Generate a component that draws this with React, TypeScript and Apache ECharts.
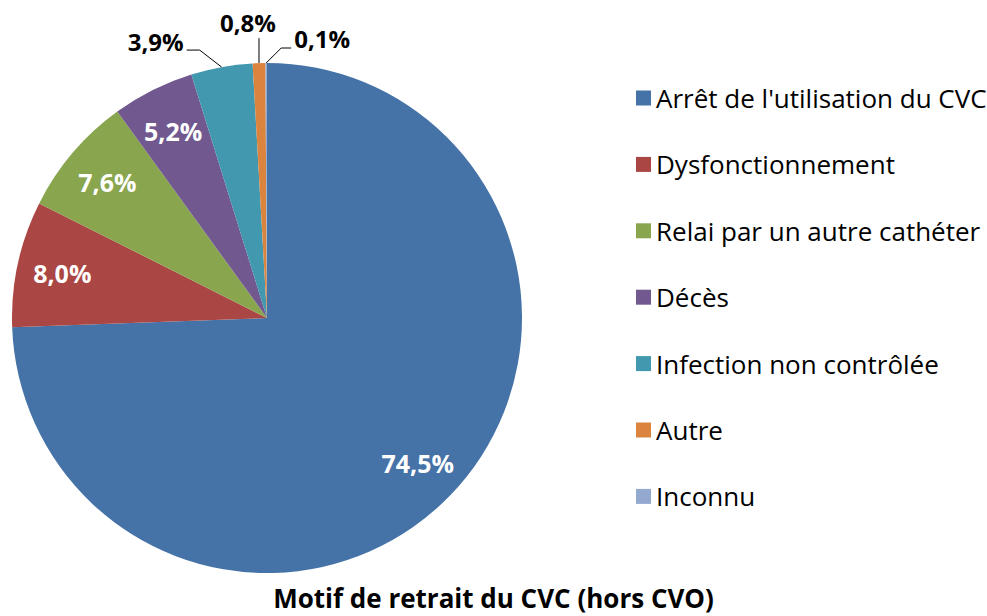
import React, { useEffect, useRef } from "react";
import * as echarts from "echarts";

const categories = [
  "Arrêt de l'utilisation du CVC",
  "Dysfonctionnement",
  "Relai par un autre cathéter",
  "Décès",
  "Infection non contrôlée",
  "Autre",
  "Inconnu",
];
const values = [74.5, 8.0, 7.6, 5.2, 3.9, 0.8, 0.1];
const colors = ["#4572A7", "#AA4643", "#89A54E", "#71588F", "#4198AF", "#DB843D", "#93A9CF"];
const titleText = "Motif de retrait du CVC (hors CVO)";
const insideThreshold = 5;

const FONT = "'Open Sans', 'Noto Sans', sans-serif";
const fmt = (v: number) => v.toFixed(1).replace(".", ",") + "%";

export default function App() {
  const ref = useRef<HTMLDivElement>(null);
  useEffect(() => {
    if (!ref.current) return;
    const chart = echarts.init(ref.current, null, { renderer: "svg" });
    const center = [267, 318];
    const R = 255;
    chart.setOption({
      animation: false,
      backgroundColor: "#fff",
      title: {
        text: titleText,
        left: "center",
        top: 584,
        padding: 0,
        textStyle: { fontFamily: FONT, fontSize: 26, fontWeight: "bold", color: "#000", lineHeight: 28 },
      },
      legend: {
        orient: "vertical",
        left: 636,
        top: 85,
        padding: 0,
        itemWidth: 15,
        itemHeight: 15,
        itemGap: 40.4,
        icon: "rect",
        selectedMode: false,
        data: categories,
        textStyle: { fontFamily: FONT, fontSize: 26, color: "#000", lineHeight: 26 },
      },
      series: [
        {
          type: "pie",
          center,
          radius: [0, R],
          startAngle: 90,
          clockwise: true,
          silent: true,
          avoidLabelOverlap: false,
          data: categories.map((name, i) => ({
            name,
            value: values[i],
            itemStyle: { color: colors[i] },
            label: { show: values[i] < insideThreshold },
            labelLine: { show: values[i] < insideThreshold },
          })),
          label: {
            position: "outside",
            formatter: (p: any) => fmt(p.value),
            color: "#000",
            fontWeight: "bold",
            fontSize: 24,
            fontFamily: FONT,
          },
          labelLine: { length: 15, length2: 12, lineStyle: { color: "#000", width: 1 } },
          labelLayout: (p: any) => {
            const pts = p.labelLinePoints;
            if (!pts) return {};
            const x0 = pts[0][0];
            const y0 = pts[0][1];
            const i = p.dataIndex;
            if (i === 4) {
              const p1 = [x0 - 22, y0 - 17];
              const p2 = [p1[0] - 13, p1[1]];
              return { x: p2[0] - 3, y: p2[1] - 9, align: "right", verticalAlign: "middle", labelLinePoints: [[x0, y0], p1, p2] };
            }
            if (i === 5) {
              const p1 = [x0, y0 - 25];
              return { x: x0 - 11, y: p1[1] - 16, align: "center", verticalAlign: "middle", labelLinePoints: [[x0, y0], p1, p1] };
            }
            if (i === 6) {
              const p1 = [x0 + 15, y0 - 15];
              const p2 = [p1[0] + 10, p1[1]];
              return { x: p2[0] + 3, y: p2[1] - 10, align: "left", verticalAlign: "middle", labelLinePoints: [[x0, y0], p1, p2] };
            }
            return {};
          },
          emphasis: { disabled: true },
        },
        {
          type: "pie",
          center,
          radius: [158, R],
          startAngle: 90,
          clockwise: true,
          silent: true,
          avoidLabelOverlap: false,
          legendHoverLink: false,
          data: categories.map((name, i) => ({
            name,
            value: values[i],
            itemStyle: { color: "rgba(0,0,0,0)" },
            label: { show: values[i] >= insideThreshold },
          })),
          label: {
            position: "inside",
            formatter: (p: any) => fmt(p.value),
            color: "#fff",
            fontWeight: "bold",
            fontSize: 25,
            fontFamily: FONT,
          },
          labelLine: { show: false },
          emphasis: { disabled: true },
        },
      ],
    });
    return () => chart.dispose();
  }, []);
  return <div ref={ref} style={{ width: 987, height: 616, position: "absolute", left: 0, top: 0 }} />;
}
